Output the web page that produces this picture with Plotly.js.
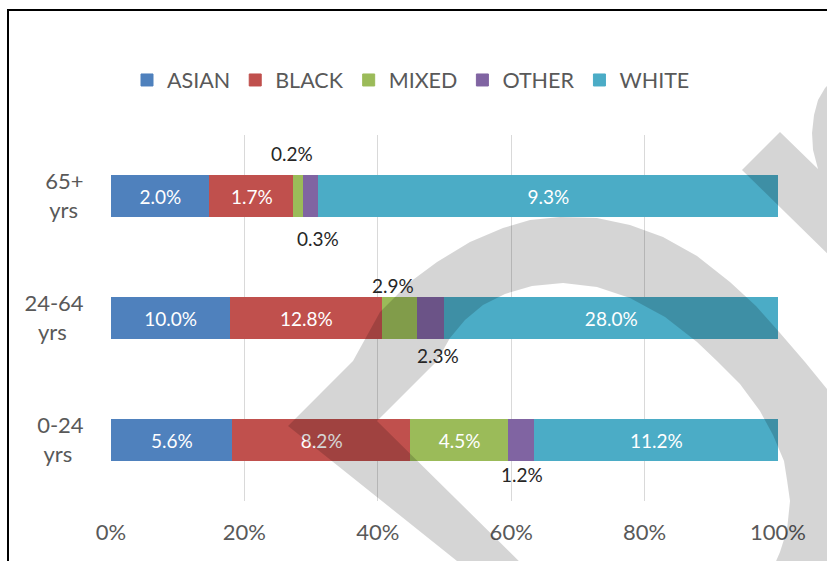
<!DOCTYPE html>
<html>
<head>
<meta charset="utf-8">
<script src="https://cdn.plot.ly/plotly-3.0.1.min.js"></script>
<style>
  html, body { margin: 0; padding: 0; background: #ffffff; }
  #chart { width: 827px; height: 561px; }
</style>
</head>
<body>
<div id="chart"></div>
<script>
// ---- data ----
const categories = ['65+ yrs', '24-64 yrs', '0-24 yrs'];
const tickLines = [['65+', 'yrs'], ['24-64', 'yrs'], ['0-24', 'yrs']];
const seriesNames = ['ASIAN', 'BLACK', 'MIXED', 'OTHER', 'WHITE'];
const asian = [2.0, 10.0, 5.6];
const black = [1.7, 12.8, 8.2];
const mixed = [0.2, 2.9, 4.5];
const other = [0.3, 2.3, 1.2];
const white = [9.3, 28.0, 11.2];
const xTickVals = [0, 20, 40, 60, 80, 100];

// ---- style ----
const seriesValues = [asian, black, mixed, other, white];
const colors = ['#4F81BD', '#C0504D', '#9BBB59', '#8064A2', '#4BACC6'];
const FONT = 'Lato, "Open Sans", sans-serif';
const W = 827, H = 561;
const plotL = 111, plotR = 778, plotT = 135, plotB = 501;

// centre the two lines of each category label by padding with no-break spaces
const cv = document.createElement('canvas').getContext('2d');
cv.font = '22px Lato';
const nb = cv.measureText('\u00a0').width || 4.2;
const tickText = tickLines.map(function (l) {
  const w0 = cv.measureText(l[0]).width, w1 = cv.measureText(l[1]).width;
  let a = l[0], b = l[1];
  const n = Math.round(Math.abs(w0 - w1) / 2 / nb);
  if (w0 > w1) b = b + '\u00a0'.repeat(n); else a = a + '\u00a0'.repeat(n);
  return a + '<br>' + b;
});

// totals and shares
const totals = categories.map(function (c, i) {
  return seriesValues.reduce(function (s, arr) { return s + arr[i]; }, 0);
});

const traces = seriesNames.map(function (name, k) {
  const vals = seriesValues[k];
  return {
    type: 'bar',
    orientation: 'h',
    name: name,
    y: categories,
    x: vals,
    marker: { color: colors[k], line: { width: 1, color: colors[k] } },
    text: vals.map(function (v, i) {
      return (v / totals[i] * 100 >= 8) ? v.toFixed(1) + '%' : '';
    }),
    textposition: 'inside',
    insidetextanchor: 'middle',
    textangle: 0,
    constraintext: 'none',
    insidetextfont: { family: FONT, size: 19, color: '#ffffff' },
    hoverinfo: 'name+x'
  };
});

// small segments: labels outside (mixed above, other below)
const aboveShift = [43, 33, 38];
const belowShift = [-42, -37, -34];
const annotations = [];
categories.forEach(function (c, i) {
  let cum = 0;
  seriesValues.forEach(function (arr, k) {
    const share = arr[i] / totals[i] * 100;
    const mid = cum + share / 2;
    cum += share;
    if (share < 8) {
      const above = (seriesNames[k] === 'MIXED');
      annotations.push({
        x: mid, y: c, xref: 'x', yref: 'y',
        text: arr[i].toFixed(1) + '%',
        showarrow: false,
        xshift: (i === 2) ? 0 : (above ? -7 : 7),
        yshift: above ? aboveShift[i] : belowShift[i],
        font: { family: FONT, size: 19, color: '#262626' }
      });
    }
  });
});

// helpers to place decorative shapes in pixel terms
function px(x) { return (x - plotL) / (plotR - plotL); }
function py(y) { return (plotB - y) / (plotB - plotT); }
function pathFrom(points) {
  return points.map(function (p, j) {
    return (j === 0 ? 'M' : 'L') + px(p[0]).toFixed(4) + ',' + py(p[1]).toFixed(4);
  }).join(' ') + ' Z';
}

// large translucent grey band over the chart
const bandMain = [
  [457, 561], [288, 426], [353, 361], [380, 312], [410, 282], [437, 262], [470, 242],
  [503, 228], [530, 220], [560, 217], [597, 218], [630, 225], [663, 237], [697, 256],
  [730, 282], [756, 306], [780, 333], [805, 362], [840, 405], [840, 575],
  [770, 575], [780, 552], [787, 530], [790, 501], [787, 480], [784, 461], [773, 435],
  [760, 411], [740, 384], [717, 361], [697, 342], [665, 317], [630, 298], [597, 287],
  [563, 283], [532, 286], [505, 294], [483, 305], [465, 320], [450, 338], [437, 361],
  [377, 421], [533, 575], [468, 575]
];
const bandTop = [
  [742, 170], [780, 132], [818, 169], [813, 150], [812, 133], [814, 115],
  [818, 100], [825, 88], [840, 72], [840, 266]
];

const shapes = [
  {
    type: 'path', xref: 'paper', yref: 'paper', layer: 'above',
    path: pathFrom(bandMain),
    fillcolor: 'rgba(0,0,0,0.165)', line: { width: 0 }
  },
  {
    type: 'path', xref: 'paper', yref: 'paper', layer: 'above',
    path: pathFrom(bandTop),
    fillcolor: 'rgba(0,0,0,0.165)', line: { width: 0 }
  },
  {
    type: 'rect', xref: 'paper', yref: 'paper', layer: 'above',
    x0: px(8), x1: px(850), y0: py(10), y1: py(580),
    line: { color: '#000000', width: 2 }, fillcolor: 'rgba(0,0,0,0)'
  }
];

const layout = {
  width: W, height: H,
  margin: { l: plotL, r: W - plotR, t: plotT, b: H - plotB, pad: 0 },
  paper_bgcolor: '#ffffff',
  plot_bgcolor: '#ffffff',
  barmode: 'stack',
  barnorm: 'percent',
  bargap: 0.66,
  font: { family: FONT, color: '#595959' },
  showlegend: true,
  legend: {
    orientation: 'h',
    traceorder: 'normal',
    x: px(411), xanchor: 'center',
    y: py(80), yanchor: 'middle',
    font: { family: FONT, size: 21.5, color: '#595959' },
    bgcolor: 'rgba(0,0,0,0)'
  },
  xaxis: {
    range: [0, 100],
    tickmode: 'array',
    tickvals: xTickVals,
    ticktext: xTickVals.map(function (v) { return v + '%'; }),
    showgrid: true,
    gridcolor: '#d9d9d9',
    gridwidth: 1,
    zeroline: false,
    showline: false,
    ticks: 'outside',
    ticklen: 12,
    tickcolor: 'rgba(0,0,0,0)',
    tickfont: { family: FONT, size: 22, color: '#595959' },
    fixedrange: true
  },
  yaxis: {
    type: 'category',
    tickmode: 'array',
    tickvals: categories,
    ticktext: tickText,
    range: [2.5, -0.5],
    showgrid: false,
    zeroline: false,
    showline: false,
    ticks: 'outside',
    ticklen: 22,
    tickcolor: 'rgba(0,0,0,0)',
    tickfont: { family: FONT, size: 22, color: '#595959' },
    fixedrange: true
  },
  annotations: annotations,
  shapes: shapes
};

Plotly.newPlot('chart', traces, layout, { displayModeBar: false, staticPlot: true });
</script>
</body>
</html>
